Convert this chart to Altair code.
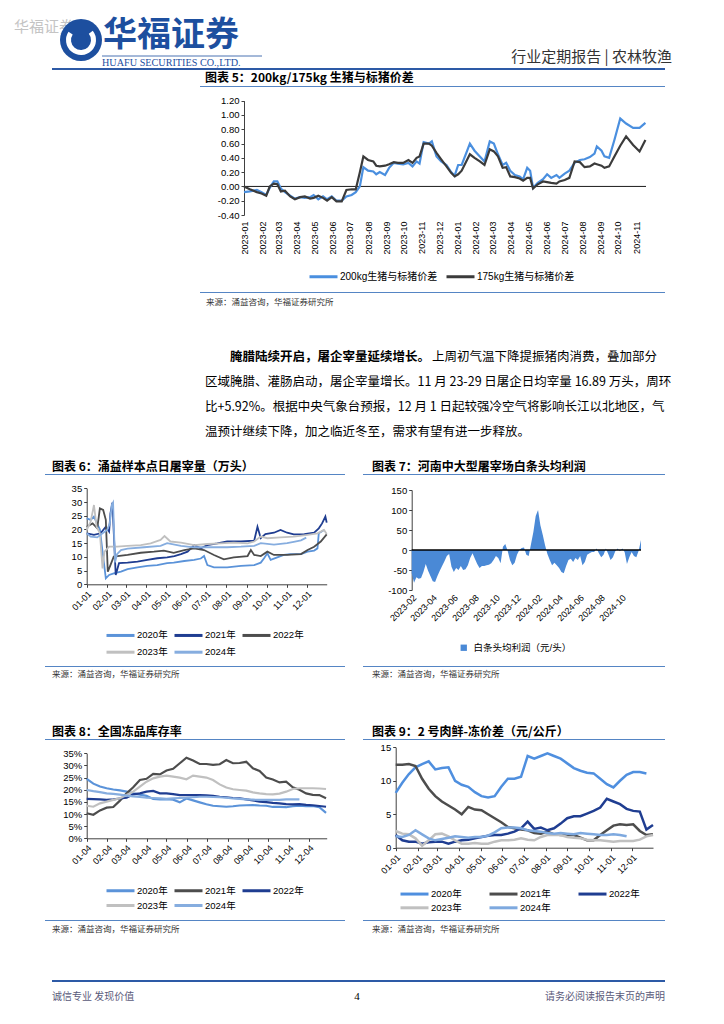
import altair as alt
import pandas as pd

W, H = 708, 1008


def P(v):
    # page pixel -> chart pixel (8px page margin)
    return v - 8


CJK = "Noto Sans CJK SC"
LAT = "Liberation Sans"
MIX = "Liberation Sans, Noto Sans CJK SC"
LINEBLUE = "#5585c4"
DARKBLUE = "#1d4f9f"
STROKE_SYM = "M-1,0H6"

# ---------------- Chart 5: 200kg/175kg premium ----------------
NAME5 = ["200kg生猪与标猪价差", "175kg生猪与标猪价差"]
DAY5 = [0, 10, 22, 30, 38, 44, 51, 57, 63, 70, 79, 87, 96, 104, 113, 119, 127, 135, 142, 150,
        158, 167, 175, 184, 191, 198, 204, 212, 221, 226, 232, 241, 248, 256, 263, 272, 281, 288, 295, 300,
        307, 316, 321, 329, 337, 346, 354, 360, 366, 372, 386, 394, 403, 411, 420, 427, 434, 442, 448, 455,
        463, 471, 477, 484, 489, 494, 502, 511, 518, 525, 534, 539, 548, 556, 565, 574, 582, 591, 599, 603,
        611, 616, 624, 633, 643, 653, 665, 676, 686]
P200 = [-0.08, -0.07, -0.05, -0.08, -0.12, -0.02, 0.07, 0.07, -0.03, -0.08, -0.13, -0.17, -0.15, -0.16, -0.15, -0.12, -0.18, -0.14, -0.18, -0.14,
        -0.20, -0.20, -0.14, -0.12, -0.08, 0.00, 0.27, 0.22, 0.21, 0.17, 0.20, 0.16, 0.26, 0.33, 0.32, 0.31, 0.33, 0.28, 0.35, 0.32,
        0.62, 0.60, 0.63, 0.42, 0.35, 0.30, 0.20, 0.15, 0.30, 0.30, 0.60, 0.50, 0.42, 0.35, 0.63, 0.60, 0.45, 0.30, 0.33, 0.22,
        0.16, 0.14, 0.10, 0.26, 0.22, -0.02, 0.05, 0.10, 0.17, 0.12, 0.16, 0.12, 0.18, 0.22, 0.33, 0.37, 0.38, 0.41, 0.46, 0.56,
        0.50, 0.42, 0.40, 0.65, 0.95, 0.88, 0.82, 0.82, 0.89]
P175 = [0.00, -0.04, -0.08, -0.10, -0.13, 0.00, 0.04, 0.03, -0.07, -0.06, -0.14, -0.18, -0.15, -0.14, -0.17, -0.16, -0.13, -0.16, -0.20, -0.15,
        -0.21, -0.21, -0.05, -0.04, -0.04, 0.20, 0.42, 0.37, 0.35, 0.29, 0.28, 0.29, 0.31, 0.34, 0.33, 0.33, 0.37, 0.33, 0.40, 0.42,
        0.60, 0.60, 0.57, 0.47, 0.38, 0.28, 0.19, 0.14, 0.17, 0.22, 0.45, 0.40, 0.35, 0.30, 0.52, 0.49, 0.42, 0.26, 0.27, 0.14,
        0.13, 0.11, 0.08, 0.12, 0.12, -0.03, 0.03, 0.07, 0.06, 0.05, 0.04, 0.07, 0.09, 0.12, 0.35, 0.34, 0.27, 0.28, 0.32, 0.31,
        0.29, 0.26, 0.28, 0.42, 0.57, 0.70, 0.58, 0.49, 0.65]

# ---------------- Chart 6: daily slaughter (10k head) ----------------
YEARS = ["2020年", "2021年", "2022年", "2023年", "2024年"]
C6_DAY = {
    "2020年": [0, 6, 11, 16, 20, 24, 29, 34, 41, 52, 62, 77, 92, 107, 122, 132, 148, 163, 173, 178,
              183, 193, 213, 234, 254, 264, 269, 274, 279, 289, 299, 309, 325, 335, 345, 350, 352, 360],
    "2021年": [0, 11, 21, 29, 34, 36, 39, 44, 49, 62, 77, 92, 107, 122, 133, 143, 153, 163, 173, 183,
              198, 213, 234, 254, 259, 264, 271, 284, 294, 304, 314, 330, 345, 352, 357, 362, 364],
    "2022年": [0, 9, 16, 20, 25, 29, 32, 36, 41, 62, 82, 102, 117, 132, 148, 163, 178, 193, 208, 223,
              244, 249, 254, 264, 274, 284, 304, 325, 335, 345, 355, 364],
    "2023年": [0, 6, 11, 15, 20, 24, 27, 34, 46, 62, 82, 97, 112, 118, 127, 143, 163, 183, 203, 223,
              244, 254, 264, 274, 294, 314, 335, 350, 360, 364],
    "2024年": [0, 6, 16, 24, 31, 35, 38, 40, 43, 46, 52, 62, 87, 112, 122, 143, 163, 213, 234, 254,
              264, 284, 304, 314, 325, 333],
}
C6_VAL = {
    "2020年": [24, 23.5, 24.7, 22, 20, 12, 2.2, 3.4, 4, 4.6, 5.5, 6.2, 6.7, 7, 7.7, 7.9, 8.5, 8.9, 9.4, 10.3,
              7, 6.2, 6.2, 6.7, 7.0, 7.9, 9.5, 11.3, 8.9, 9.8, 10.7, 11, 11, 11.9, 12.3, 13.1, 18.6, 19.8],
    "2021年": [18.6, 18, 18.6, 21, 19.2, 25.9, 29.8, 3.4, 7.7, 7.9, 8.3, 8.9, 9.5, 9.8, 10.3, 11, 11.9, 14.3, 13.1, 14.3,
              14.9, 15.6, 15.6, 15.9, 21, 16.8, 18.3, 18.8, 19.8, 18.8, 18.2, 18.3, 18.8, 20.4, 22.2, 24.7, 22.5],
    "2022年": [21, 22.2, 20.4, 27.7, 27.1, 23.5, 4.6, 7, 10.1, 10.7, 11.5, 11.9, 12.3, 11.5, 12.5, 13.1, 12.5, 10.7, 9.1, 9.8,
              10.3, 12.5, 10.7, 10.3, 11.9, 10.7, 10.7, 11, 12.5, 13.7, 15.6, 18.2],
    "2023年": [19.8, 22.8, 28.9, 21, 18.6, 5.8, 11.9, 13.7, 13.7, 14, 14.3, 14.9, 16.2, 17.6, 15.6, 15.2, 14.3, 14.7, 14.9, 15.2,
              14.9, 15.6, 17.4, 16.8, 17.1, 17.4, 18, 18.6, 19.8, 18.3],
    "2024年": [18.6, 17.4, 17.1, 18.6, 19.8, 22.2, 28.9, 29.8, 8, 11, 12.5, 13, 13.5, 14, 15, 14, 13.5, 13.5, 13.7, 14,
              15, 14.5, 15, 15.5, 16, 17],
}
COL6 = ["#5b93d9", "#1f3d91", "#4d4d4d", "#c0c0c0", "#86addf"]

# ---------------- Chart 7: Henan carcass profit (yuan/head) ----------------
NAME7 = "白条头均利润（元/头）"
V7 = [-58, -82, -68, -72, -70, -55, -35, -52, -65, -78,
      -80, -65, -52, -40, -28, -15, -10, -42, -55, -45,
      -50, -40, -50, -48, -38, -20, -8, -22, -35, -45,
      -40, -40, -38, -37, -33, -25, -15, -20, -33, 8,
      15, -2, -25, -38, -32, -12, 0, 5, 6, -12,
      -15, 15, 45, 85, 100, 62, 38, 12, -10, -25,
      -38, -32, -38, -45, -55, -58, -40, -25, -22, -30,
      -20, -25, -15, -38, -30, -12, -8, -5, -5, 4,
      -8, -18, -12, 4, -10, -25, -18, -3, 4, -3,
      4, -5, -35, -18, -5, -15, -18, -2, 25]

# ---------------- Chart 8: frozen inventory rate (%) ----------------
C8 = {
    "2020年": [24.5, 22.5, 21.3, 20.6, 20.1, 19.7, 19.2, 18.5, 18, 17.5, 16.2, 16, 16.1, 15.9, 14.8, 16.4, 15.6, 14.8, 14, 13.4,
              13.2, 13, 13.2, 13.5, 13.6, 13.7, 13.5, 13.4, 12.9, 12.9, 12.8, 13.2, 13.4, 13.2, 13.3, 12.8, 10.5],
    "2021年": [10.3, 9.7, 11.5, 12.6, 12.9, 15.5, 18.5, 21, 24, 24.5, 26.5, 26.3, 27.9, 28.6, 30.9, 33.2, 32, 30.6, 30.6, 30.2,
              30.5, 32.2, 30.9, 31, 31.5, 28.8, 27.7, 25, 24.2, 23, 23.3, 21, 20, 18.5, 17.9, 17.8, 16.5],
    "2022年": [16.2, 16.1, 16, 15.8, 16, 16.4, 16.7, 18.1, 18.5, 19.2, 19.5, 18.5, 18.5, 18.2, 17.8, 17.8, 17.8, 17.8, 17.7, 17.5,
              17.1, 16.9, 16.6, 16.5, 16, 15.6, 15.1, 14.9, 14.6, 14.4, 14.1, 14, 14.1, 13.8, 13.6, 13.3, 13],
    "2023年": [13.4, 13, 14.4, 15.1, 15.8, 16.5, 17.8, 19.2, 21.3, 23.3, 24.7, 25.4, 25.8, 25.4, 25, 24.3, 25.8, 25.4, 25, 24,
              22.2, 20.9, 20.2, 19.9, 19.6, 18.9, 18.5, 18.2, 18.1, 18.4, 19.2, 20.3, 20.6, 20.6, 20.6, 20.5, 20.3],
    "2024年": [19.9, 19.4, 19, 18.5, 18.3, 18, 17.6, 17.3, 17, 16.7, 16.6, 16.4, 16.2, 16.4, 16.6, 16.7, 16.9, 17.1, 17.1, 17,
              16.9, 16.7, 16.4, 16.2, 16, 15.9, 15.8, 15.8, 15.8, 15.8, 16, 16, 16],
}
COL8 = ["#5b93d9", "#4d4d4d", "#1f3d91", "#c0c0c0", "#86addf"]

# ---------------- Chart 9: fresh-frozen spread (yuan/kg) ----------------
C9 = {
    "2020年": [8.2, 9.7, 11.0, 12.0, 12.5, 12.9, 11.7, 11.9, 12.0, 10.0, 9.4, 9.1, 8.3, 7.7, 7.5, 7.7, 9.1, 10.3, 10.3, 10.6,
              13.7, 13.3, 13.7, 14.1, 13.7, 13.3, 12.6, 11.9, 11.5, 11.2, 11.1, 10.3, 9.5, 9.0, 10.0, 10.9, 11.3, 11.3, 11.1, None],
    "2021年": [12.4, 12.4, 12.5, 12.2, 10.3, 8.8, 7.7, 6.9, 6.3, 5.7, 5.0, 6.1, 5.7, 5.6, 5.0, 4.4, 3.8, 3.1, 2.9, 2.7,
              2.6, 2.2, 2.1, 2.4, 2.0, 1.9, 1.9, 1.9, 1.5, 1.1, 1.1, 1.9, 2.6, 3.3, 3.5, 3.4, 3.5, 2.5, 1.9, 2.0],
    "2022年": [1.9, 1.1, 0.9, 0.9, 0.6, 0.8, 0.9, 0.9, 0.6, 0.9, 1.1, 1.2, 1.4, 1.6, 1.8, 1.9, 1.9, 2.1, 2.4, 2.9,
              3.9, 2.8, 3.0, 2.6, 2.9, 3.6, 4.4, 4.7, 4.7, 5.1, 5.5, 6.0, 7.3, 6.9, 6.5, 5.8, 5.5, 5.4, 2.7, 3.4],
    "2023年": [2.5, 2.1, 2.0, 1.4, 0.3, 1.1, 2.0, 2.1, 1.7, 1.1, 0.6, 0.6, 0.7, 0.6, 0.6, 0.9, 1.1, 1.1, 1.2, 1.4,
              1.2, 1.1, 1.6, 1.9, 1.9, 1.9, 1.6, 1.5, 1.4, 1.2, 1.1, 1.1, 1.0, 0.9, 1.0, 1.0, 1.0, 1.2, 1.7, 1.9],
    "2024年": [1.7, 1.6, 1.9, 2.6, 2.0, 1.4, 1.1, 1.3, 1.5, 1.7, 1.6, 1.5, 1.6, 1.6, 1.8, 2.3, 2.9, 3.0, 3.0, 2.9,
              2.6, 2.5, 2.4, 2.2, 2.1, 2.2, 2.1, 2.0, 2.2, 2.1, 2.0, 1.9, 1.9, 2.0, 1.9, 1.7, None, None, None, None],
}
COL9 = ["#4f8fdf", "#4d4d4d", "#1f3d91", "#c0c0c0", "#7ea9df"]

# ---------------- texts ----------------
PARA = [
    "区域腌腊、灌肠启动，屠企宰量增长。11 月 23-29 日屠企日均宰量 16.89 万头，周环",
    "比+5.92%。根据中央气象台预报，12 月 1 日起较强冷空气将影响长江以北地区，气",
    "温预计继续下降，加之临近冬至，需求有望有进一步释放。",
]
SOURCE = "来源：涌益咨询，华福证券研究所"


def long_df(dates, series):
    rows = []
    for name, vals in series.items():
        for d, v in zip(dates, vals):
            if v is not None:
                rows.append({"date": d, "v": v, "s": name})
    return pd.DataFrame(rows)


def T(t, x, y, size=12.5, color="#000", weight="normal", align="left", font=CJK):
    return alt.Chart().mark_text(text=t, font=font, fontSize=size, color=color, fontWeight=weight,
                                 align=align, baseline="middle").encode(x=alt.value(P(x)), y=alt.value(P(y)))


def R(x1, x2, y, color=LINEBLUE, w=1.2):
    return alt.Chart().mark_rule(color=color, strokeWidth=w).encode(
        x=alt.value(P(x1)), x2=alt.value(P(x2)), y=alt.value(P(y)))


def ARC(cx, cy, r_out, r_in, t0, t1, color):
    return alt.Chart().mark_arc(radius=r_out, radius2=r_in, theta=t0, theta2=t1, color=color).encode(
        x=alt.value(P(cx)), y=alt.value(P(cy)))


def DT(y, m, d):
    return alt.DateTime(year=y, month=m, date=d)


def minus_fix(fmt):
    return f"replace(format(datum.value, '{fmt}'), '\u2212', '-')"


def year_legend(lx, ly, colpad, rowpad):
    return alt.Legend(orient="none", legendX=P(lx), legendY=P(ly) - 6, title=None, columns=3,
                      direction="horizontal", symbolType=STROKE_SYM, symbolSize=64, symbolStrokeWidth=3,
                      labelOffset=21, labelFontSize=9.5, labelFont=MIX, columnPadding=colpad, rowPadding=rowpad)


def x_axis(ybottom, fmt, values=None, ticks=True, domain=True, angle=315, pad=2):
    kw = dict(orient="bottom", offset=P(ybottom) - H, format=fmt, labelAngle=angle, labelPadding=pad,
              domain=domain, ticks=ticks, tickSize=3, labelOverlap=False, labelFlush=False, title=None,
              labelFontSize=9)
    if values is None:
        kw["tickCount"] = {"interval": "month", "step": 1}
    else:
        kw["values"] = values
    return alt.Axis(**kw)


def y_axis(xleft, values, expr):
    return alt.Axis(orient="left", offset=-P(xleft), values=values, labelExpr=expr, title=None,
                    tickSize=3, labelFontSize=9.5, labelPadding=2)


# ================= panel 5 =================
d5 = pd.Timestamp("2023-01-01") + pd.to_timedelta(DAY5, unit="D")
df5 = long_df(d5, {NAME5[0]: P200, NAME5[1]: P175})
x5 = alt.Scale(domain=[DT(2023, 1, 1), DT(2024, 11, 18)], range=[P(244), P(646)], nice=False)
y5 = alt.Scale(domain=[-0.4, 1.2], range=[P(215), P(100.7)], nice=False, zero=False)
AX5 = x_axis(215, "%Y-%m", ticks=False, domain=False, angle=270, pad=6)
AY5 = y_axis(244, [-0.4, -0.2, 0, 0.2, 0.4, 0.6, 0.8, 1.0, 1.2], minus_fix(".2f"))
zero5 = alt.Chart(pd.DataFrame({"date": [pd.Timestamp("2023-01-01")], "d1": [pd.Timestamp("2024-11-18")], "v": [0]})) \
    .mark_rule(color="#1a1a1a", strokeWidth=1).encode(
        x=alt.X("date:T", scale=x5, axis=AX5), x2="d1:T", y=alt.Y("v:Q", scale=y5, axis=AY5))
lines5 = alt.Chart(df5).mark_line(strokeWidth=2.2).encode(
    x=alt.X("date:T", scale=x5, axis=AX5),
    y=alt.Y("v:Q", scale=y5, axis=AY5),
    color=alt.Color("s:N", scale=alt.Scale(domain=NAME5, range=["#4a8fdf", "#3b3b3b"]),
                    legend=alt.Legend(orient="none", legendX=P(308), legendY=P(277) - 6, title=None,
                                      direction="horizontal", symbolType=STROKE_SYM, symbolSize=64,
                                      symbolStrokeWidth=3, labelOffset=21, labelFontSize=10, labelFont=MIX,
                                      columnPadding=2)),
)
panel5 = alt.layer(zero5, lines5)

# ================= panel 6 =================
rows6 = []
for yname in YEARS:
    for dd, vv in zip(C6_DAY[yname], C6_VAL[yname]):
        rows6.append({"date": pd.Timestamp("2021-01-01") + pd.Timedelta(days=dd), "v": vv, "s": yname})
df6 = pd.DataFrame(rows6)
x6 = alt.Scale(domain=[DT(2021, 1, 1), DT(2021, 12, 31)], range=[P(86.7), P(326.7)], nice=False)
y6 = alt.Scale(domain=[0, 35], range=[P(584.3), P(488.3)], nice=False, zero=False)
panel6 = alt.Chart(df6).mark_line(strokeWidth=1.8).encode(
    x=alt.X("date:T", scale=x6, axis=x_axis(584.3, "%m-%d")),
    y=alt.Y("v:Q", scale=y6, axis=y_axis(86.7, list(range(0, 36, 5)), "datum.value")),
    color=alt.Color("s:N", scale=alt.Scale(domain=YEARS, range=COL6), legend=year_legend(105, 635.7, 0, 4)),
)

# ================= panel 7 =================
d7 = pd.date_range("2023-02-01", "2024-11-28", periods=len(V7))
df7 = pd.DataFrame({"date": d7, "v": V7, "s": NAME7})
x7 = alt.Scale(domain=[DT(2023, 2, 1), DT(2024, 11, 28)], range=[P(411.7), P(641)], nice=False)
y7 = alt.Scale(domain=[-100, 150], range=[P(590), P(490)], nice=False, zero=False)
TICKS7 = [DT(2023, m, 1) for m in (2, 4, 6, 8, 10, 12)] + [DT(2024, m, 1) for m in (2, 4, 6, 8, 10)]
AX7 = x_axis(590, "%Y-%m", values=TICKS7, ticks=False, domain=False, pad=3)
AY7 = y_axis(411.7, [-100, -50, 0, 50, 100, 150], minus_fix("d"))
area7 = alt.Chart(df7).mark_area(interpolate="linear").encode(
    x=alt.X("date:T", scale=x7, axis=AX7),
    y=alt.Y("v:Q", scale=y7, axis=AY7),
    y2=alt.datum(0),
    color=alt.Color("s:N", scale=alt.Scale(domain=[NAME7], range=["#4a89d6"]),
                    legend=alt.Legend(orient="none", legendX=P(459), legendY=P(649) - 6, title=None,
                                      symbolType="square", symbolSize=40, labelOffset=5, labelFontSize=9.5,
                                      labelFont=MIX)),
)
zero7 = alt.Chart(pd.DataFrame({"date": [pd.Timestamp("2023-02-01")], "d1": [pd.Timestamp("2024-11-28")], "v": [0]})) \
    .mark_rule(color="#000", strokeWidth=1.5).encode(
        x=alt.X("date:T", scale=x7, axis=AX7), x2="d1:T", y=alt.Y("v:Q", scale=y7, axis=AY7))
panel7 = alt.layer(area7, zero7)

# ================= panel 8 =================
d8 = pd.date_range("2021-01-04", periods=37, freq="10D")
df8 = long_df(d8, C8)
x8 = alt.Scale(domain=[DT(2021, 1, 4), DT(2021, 12, 31)], range=[P(86.7), P(326.7)], nice=False)
y8 = alt.Scale(domain=[0, 35], range=[P(838.3), P(753.3)], nice=False, zero=False)
panel8 = alt.Chart(df8).mark_line(strokeWidth=2.2).encode(
    x=alt.X("date:T", scale=x8, axis=x_axis(838.3, "%m-%d", values=[DT(2021, m, 4) for m in range(1, 13)])),
    y=alt.Y("v:Q", scale=y8, axis=y_axis(86.7, list(range(0, 36, 5)), "datum.value + '%'")),
    color=alt.Color("s:N", scale=alt.Scale(domain=YEARS, range=COL8), legend=year_legend(105, 891, 0, 2)),
)

# ================= panel 9 =================
d9 = pd.date_range("2021-01-01", "2021-12-31", periods=40)
df9 = long_df(d9, C9)
x9 = alt.Scale(domain=[DT(2021, 1, 1), DT(2021, 12, 31)], range=[P(395.7), P(653)], nice=False)
y9 = alt.Scale(domain=[0, 15], range=[P(847.7), P(747.3)], nice=False, zero=False)
panel9 = alt.Chart(df9).mark_line(strokeWidth=2.5).encode(
    x=alt.X("date:T", scale=x9, axis=x_axis(847.7, "%m-%d")),
    y=alt.Y("v:Q", scale=y9, axis=y_axis(395.7, [0, 5, 10, 15], "datum.value")),
    color=alt.Color("s:N", scale=alt.Scale(domain=YEARS, range=COL9), legend=year_legend(399, 894.3, 21, 1)),
)

# ================= page decorations =================
deco = [
    # header
    T("华福证券", 14, 27, size=15, color="#c4c4c4"),
    ARC(81, 40, 21, 0, 0, 6.2832, DARKBLUE),
    ARC(81, 40, 15, 10, 0.9, 5.3, "#ffffff"),
    ARC(81, 40, 6, 0, 0, 6.2832, DARKBLUE),
    T("华福证券", 103, 36, size=34, color=DARKBLUE, weight="bold"),
    R(102, 262, 56, color=DARKBLUE, w=0.8),
    T("HUAFU SECURITIES CO.,LTD.", 102, 63, size=10.2, color=DARKBLUE, font="Liberation Serif"),
    T("行业定期报告  |  农林牧渔", 672, 57, size=15, color="#333333", align="right"),
    R(52, 665, 69, color="#2d5aa6", w=2),
    # chart 5 frame
    T("图表 5：200kg/175kg 生猪与标猪价差", 205, 78, size=12, weight="bold"),
    R(200, 665, 86.5),
    R(200, 665, 292.5),
    T(SOURCE, 206, 302, size=8.5, color="#333333"),
    # paragraph
    T("腌腊陆续开启，屠企宰量延续增长。", 230, 357, size=12.5, weight="bold"),
    T("上周初气温下降提振猪肉消费，叠加部分", 432, 357, size=12.5),
    T(PARA[0], 205, 382, size=12.5),
    T(PARA[1], 205, 407, size=12.5),
    T(PARA[2], 205, 432, size=12.5),
    # chart 6 / 7 frames
    T("图表 6：涌益样本点日屠宰量（万头）", 52, 466.5, size=12, weight="bold"),
    R(45, 345, 474.5),
    R(45, 345, 666.5),
    T(SOURCE, 52, 673.5, size=8.5, color="#333333"),
    T("图表 7：河南中大型屠宰场白条头均利润", 372, 466.5, size=12, weight="bold"),
    R(363, 665, 474.5),
    R(363, 665, 666.5),
    T(SOURCE, 372, 673.5, size=8.5, color="#333333"),
    # chart 8 / 9 frames
    T("图表 8：全国冻品库存率", 52, 731.5, size=12, weight="bold"),
    R(45, 345, 739.5),
    R(45, 345, 920.5),
    T(SOURCE, 52, 929, size=8.5, color="#333333"),
    T("图表 9：2 号肉鲜-冻价差（元/公斤）", 372, 731.5, size=12, weight="bold"),
    R(363, 665, 739.5),
    R(363, 665, 920.5),
    T(SOURCE, 372, 929, size=8.5, color="#333333"),
    # footer
    R(52, 665, 981, color="#2d5aa6", w=2),
    T("诚信专业  发现价值", 52, 997, size=10, color="#5a5a7a"),
    T("4", 357, 997, size=11, color="#000", align="center", font="Liberation Serif"),
    T("请务必阅读报告末页的声明", 665, 997, size=10, color="#5a5a7a", align="right"),
]

chart = alt.layer(*deco, panel5, panel6, panel7, panel8, panel9, data=pd.DataFrame({"k": [0]})) \
    .resolve_scale(x="independent", y="independent", color="independent") \
    .resolve_axis(x="independent", y="independent") \
    .resolve_legend(color="independent") \
    .properties(width=W, height=H, padding=0, background="white") \
    .configure_view(stroke=None) \
    .configure_axis(grid=False, labelFont=LAT, labelColor="#000", domainColor="#404040",
                    tickColor="#404040", labelFontSize=9) \
    .configure_legend(labelFont=MIX, labelColor="#000", labelFontSize=9.5)

chart.save("out.html", embed_options={"renderer": "svg", "actions": False})
